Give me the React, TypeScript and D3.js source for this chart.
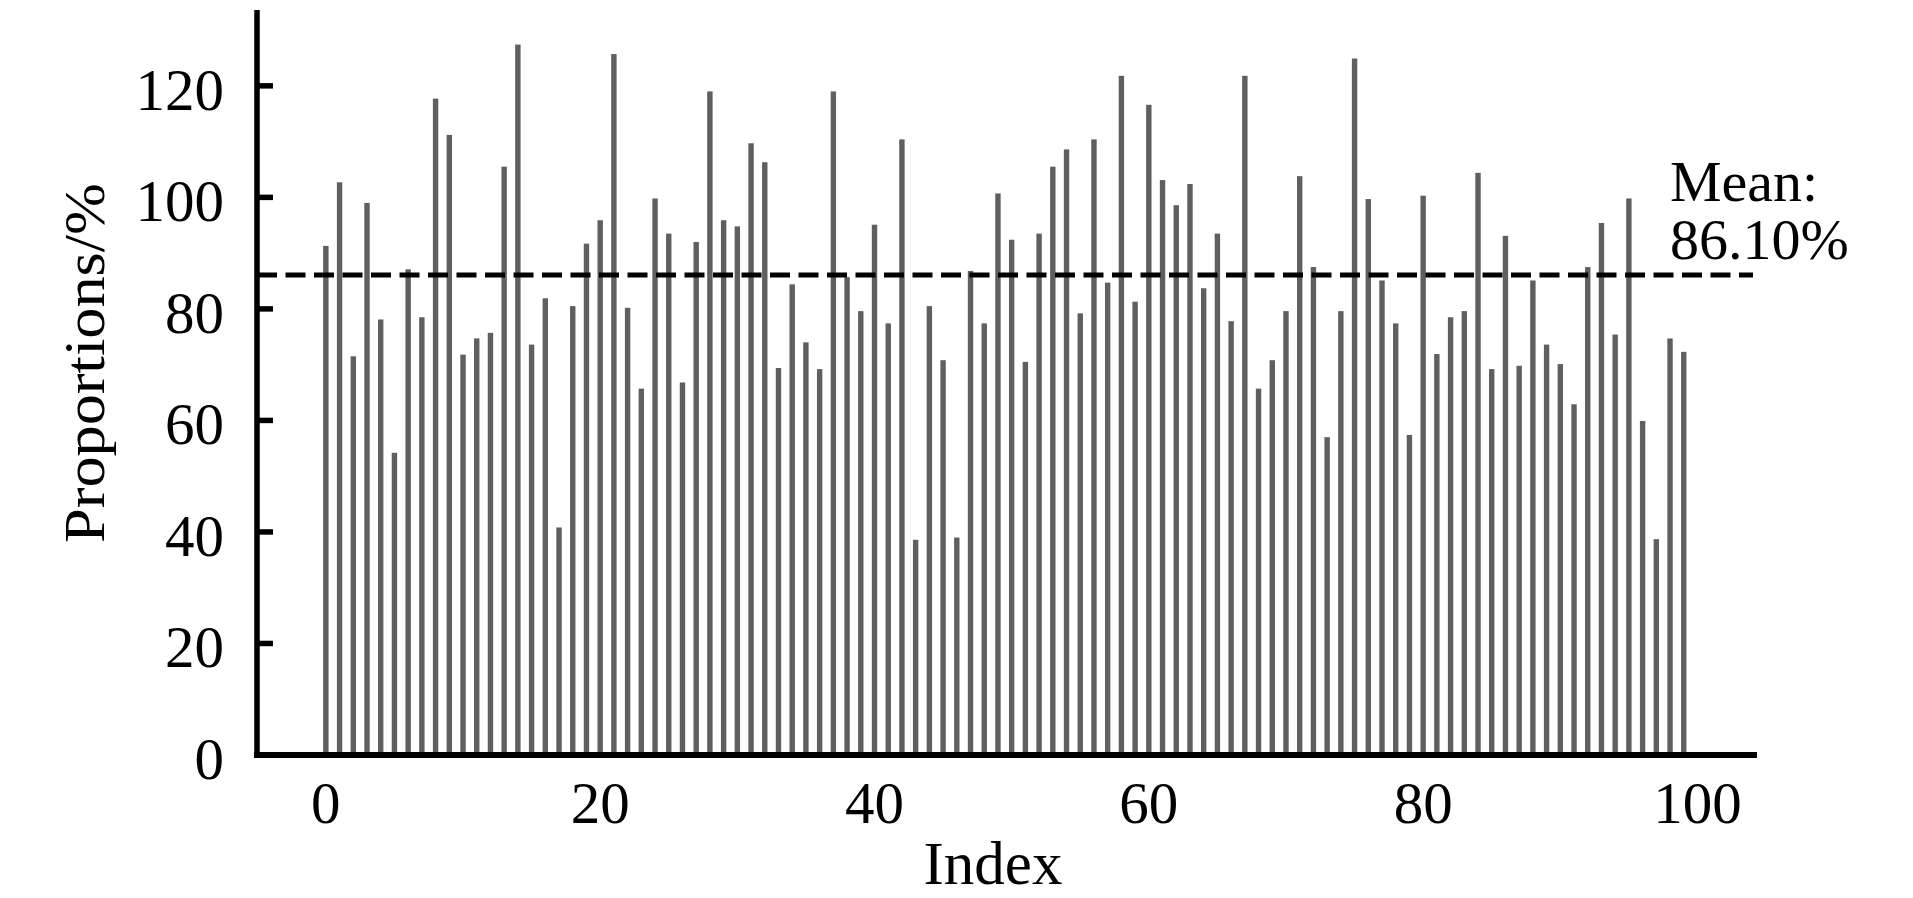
import React, { useEffect, useRef } from 'react';
import * as d3 from 'd3';

// proportions per index
const proportions: number[] = [
  91.3, 102.7, 71.5, 99.0, 78.1, 54.2, 87.1, 78.5, 117.7, 111.2,
  71.8, 74.7, 75.7, 105.5, 127.4, 73.6, 81.9, 40.8, 80.5, 91.7,
  95.9, 125.7, 80.2, 65.7, 99.8, 93.5, 66.8, 92.0, 119.0, 95.9,
  94.8, 109.7, 106.3, 69.4, 84.4, 74.0, 69.2, 119.0, 85.7, 79.6,
  95.1, 77.4, 110.4, 38.6, 80.5, 70.8, 39.0, 86.8, 77.4, 100.7,
  92.4, 70.5, 93.5, 105.5, 108.6, 79.2, 110.4, 84.7, 121.8, 81.3,
  116.6, 103.1, 98.6, 102.4, 83.7, 93.5, 77.8, 121.8, 65.7, 70.8,
  79.6, 103.8, 87.5, 57.0, 79.6, 124.9, 99.7, 85.1, 77.4, 57.4,
  100.3, 71.9, 78.5, 79.6, 104.4, 69.2, 93.1, 69.8, 85.1, 73.6,
  70.1, 62.9, 87.5, 95.4, 75.4, 99.8, 59.9, 38.7, 74.7, 72.3,
];
const meanValue = 86.1;
const yTicks: number[] = [0, 20, 40, 60, 80, 100, 120];
const xTicks: number[] = [0, 20, 40, 60, 80, 100];

const W = 1913;
const H = 898;
const FONT = '"Liberation Serif", "Times New Roman", serif';

const App: React.FC = () => {
  const ref = useRef<SVGSVGElement>(null);

  useEffect(() => {
    const svg = d3.select(ref.current);
    svg.selectAll('*').remove();

    const left = 257;
    const right = 1757;
    const top = 10;
    const bottom = 755;

    const x = d3.scaleLinear().domain([-5.02, 104.34]).range([left, right]);
    const y = d3.scaleLinear().domain([0, 133.6]).range([bottom, top]);

    // bars
    svg
      .append('g')
      .selectAll('rect')
      .data(proportions)
      .enter()
      .append('rect')
      .attr('x', (_d, i) => x(i) - 2.7)
      .attr('width', 5.4)
      .attr('y', (d) => y(d))
      .attr('height', (d) => y(0) - y(d))
      .attr('fill', '#5f5f5f');

    // mean line
    svg
      .append('line')
      .attr('x1', left)
      .attr('x2', right - 4)
      .attr('y1', y(meanValue))
      .attr('y2', y(meanValue))
      .attr('stroke', '#000')
      .attr('stroke-width', 5)
      .attr('stroke-dasharray', '20,8.5');

    // mean label, two lines in one text
    const meanText = svg
      .append('text')
      .attr('font-family', FONT)
      .attr('font-size', 58);
    meanText.append('tspan').attr('x', 1670).attr('y', 201).text('Mean:');
    meanText
      .append('tspan')
      .attr('x', 1670)
      .attr('y', 259)
      .text(`${meanValue.toFixed(2)}%`);

    // axes lines
    svg
      .append('line')
      .attr('x1', left)
      .attr('x2', left)
      .attr('y1', top)
      .attr('y2', bottom + 3)
      .attr('stroke', '#000')
      .attr('stroke-width', 5.5);
    svg
      .append('line')
      .attr('x1', left - 3)
      .attr('x2', right)
      .attr('y1', bottom)
      .attr('y2', bottom)
      .attr('stroke', '#000')
      .attr('stroke-width', 6);

    // y ticks (inward)
    const yg = svg.append('g');
    yg.selectAll('line')
      .data(yTicks)
      .enter()
      .append('line')
      .attr('x1', left)
      .attr('x2', left + 16)
      .attr('y1', (d) => y(d))
      .attr('y2', (d) => y(d))
      .attr('stroke', '#000')
      .attr('stroke-width', 5.5);
    yg.selectAll('text')
      .data(yTicks)
      .enter()
      .append('text')
      .attr('x', 224)
      .attr('y', (d) => y(d) + 24)
      .attr('text-anchor', 'end')
      .attr('font-family', FONT)
      .attr('font-size', 59)
      .text((d) => d);

    // x tick labels
    svg
      .append('g')
      .selectAll('text')
      .data(xTicks)
      .enter()
      .append('text')
      .attr('x', (d) => x(d))
      .attr('y', 823)
      .attr('text-anchor', 'middle')
      .attr('font-family', FONT)
      .attr('font-size', 59)
      .text((d) => d);

    // axis titles
    svg
      .append('text')
      .attr('x', 993)
      .attr('y', 884)
      .attr('text-anchor', 'middle')
      .attr('font-family', FONT)
      .attr('font-size', 61)
      .text('Index');

    svg
      .append('text')
      .attr('transform', `translate(104, 363) rotate(-90)`)
      .attr('text-anchor', 'middle')
      .attr('font-family', FONT)
      .attr('font-size', 56)
      .attr('textLength', 360)
      .attr('lengthAdjust', 'spacingAndGlyphs')
      .text('Proportions/%');
  }, []);

  return (
    <svg
      ref={ref}
      width={W}
      height={H}
      style={{ position: 'absolute', left: 0, top: 0, background: '#fff' }}
    ></svg>
  );
};

export default App;
